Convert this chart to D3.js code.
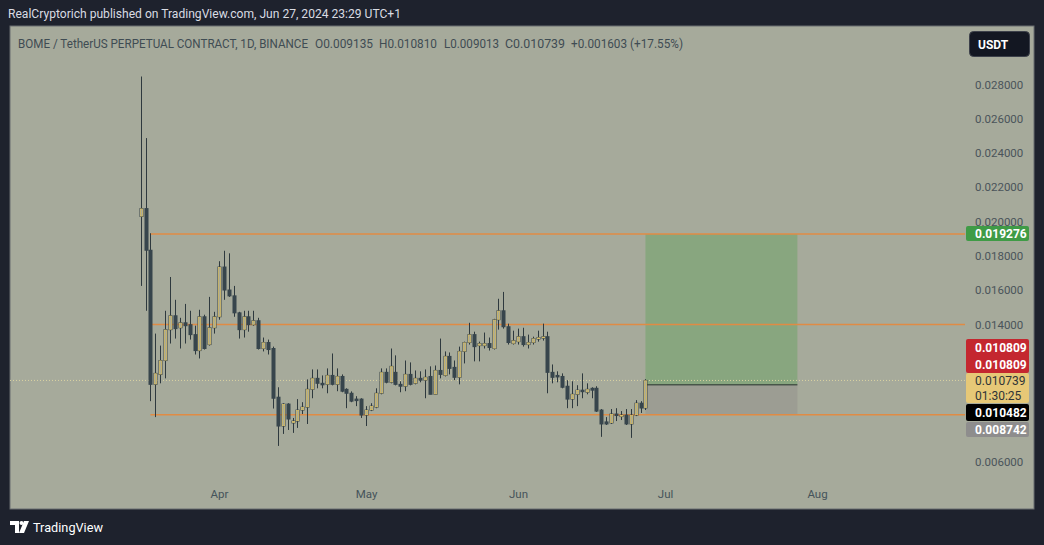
<!DOCTYPE html>
<html><head><meta charset="utf-8">
<script src="https://cdn.jsdelivr.net/npm/d3@7"></script>
<style>
html,body{margin:0;padding:0;background:#1e222d;}
svg{display:block;font-family:Roboto,"Liberation Sans",sans-serif;}
</style></head>
<body>
<svg id="c" width="1044" height="545"></svg>
<script>
// ---------- DATA ----------
const startDate = Date.UTC(2024, 2, 16);   // first daily candle (Mar 16, 2024)
const endDate   = Date.UTC(2024, 5, 28);   // exclusive (last candle Jun 27, 2024)
const opens  = [0.0203,0.02076,0.01833,0.01051,0.01109,0.0119,0.0137,0.01451,0.01381,0.0141,
  0.01399,0.01341,0.01248,0.01445,0.01283,0.01381,0.01445,0.01735,0.01601,0.01567,
  0.01468,0.0137,0.01445,0.01399,0.01422,0.0126,0.01295,0.0126,0.00976,0.00808,
  0.00936,0.00826,0.00837,0.00901,0.00918,0.01022,0.01086,0.01057,0.01051,0.01103,
  0.01051,0.01097,0.01022,0.00999,0.00965,0.00965,0.00872,0.00901,0.00918,0.00999,
  0.01121,0.01063,0.01121,0.01051,0.0104,0.01109,0.01057,0.01086,0.01075,0.01097,
  0.00993,0.01132,0.01103,0.01214,0.0115,0.01092,0.01243,0.01295,0.01341,0.01277,
  0.01277,0.01289,0.0126,0.01428,0.0148,0.01387,0.01289,0.013,0.01329,0.01283,
  0.01295,0.01318,0.01324,0.01329,0.01121,0.01103,0.01097,0.0104,0.00965,0.00993,
  0.01017,0.01005,0.01028,0.01028,0.00901,0.00832,0.00826,0.00878,0.00866,0.00872,
  0.0082,0.00872,0.00941,0.009135];
const highs  = [0.02846,0.02487,0.01932,0.01347,0.01277,0.0148,0.01677,0.01544,0.01439,0.0152,
  0.0148,0.01393,0.01486,0.01457,0.01561,0.01474,0.01769,0.01830,0.01815,0.01625,
  0.01474,0.0148,0.0148,0.0148,0.01439,0.01324,0.01312,0.01271,0.01034,0.00941,
  0.00941,0.00855,0.00965,0.00947,0.0108,0.01138,0.01138,0.01103,0.01144,0.01231,
  0.01144,0.01109,0.01028,0.0101,0.00982,0.0097,0.00924,0.00941,0.01028,0.01144,
  0.01144,0.0126,0.0122,0.01069,0.0119,0.01179,0.01132,0.01127,0.01138,0.01156,
  0.01161,0.01318,0.01243,0.01237,0.0119,0.01271,0.013,0.0141,0.01358,0.013,
  0.01353,0.01324,0.01433,0.0155,0.0159,0.01405,0.01364,0.01376,0.01381,0.01341,
  0.01329,0.01364,0.01405,0.01358,0.01167,0.01127,0.01115,0.01075,0.01069,0.01046,
  0.01115,0.01057,0.01034,0.0104,0.00907,0.0086,0.00907,0.00912,0.00895,0.00907,
  0.00907,0.00959,0.00953,0.01081];
const lows   = [0.01625,0.0148,0.00953,0.0086,0.01057,0.01086,0.01289,0.01318,0.0126,0.01289,
  0.01312,0.01225,0.01202,0.01254,0.01277,0.01347,0.01428,0.01544,0.01561,0.01445,
  0.01318,0.01324,0.01358,0.01393,0.01254,0.01243,0.01225,0.0091,0.00692,0.00762,
  0.00785,0.00768,0.00797,0.00878,0.0082,0.0097,0.01028,0.01028,0.00999,0.01045,
  0.01011,0.01005,0.00912,0.00947,0.00924,0.00855,0.00808,0.00895,0.00912,0.00993,
  0.01057,0.01057,0.01045,0.01005,0.01011,0.01045,0.01051,0.01063,0.0097,0.00993,
  0.00993,0.01086,0.01097,0.01109,0.01075,0.01051,0.01173,0.01283,0.01185,0.01185,
  0.0126,0.01248,0.01254,0.0137,0.01376,0.01283,0.01283,0.01283,0.01271,0.0126,
  0.01283,0.013,0.01306,0.00999,0.01057,0.01063,0.01028,0.00912,0.00912,0.00924,
  0.0097,0.00993,0.0097,0.0089,0.00745,0.00814,0.0082,0.00837,0.00843,0.00814,
  0.00739,0.00866,0.00884,0.009013];
const closes = [0.02076,0.01833,0.01051,0.01115,0.0119,0.0137,0.01451,0.01376,0.0141,0.01393,
  0.01341,0.01248,0.01445,0.0126,0.01381,0.01445,0.01735,0.01601,0.01567,0.01468,
  0.0137,0.01445,0.01399,0.01422,0.0126,0.01295,0.01254,0.0097,0.00808,0.00936,
  0.00849,0.00837,0.00901,0.00918,0.01022,0.01086,0.01057,0.01051,0.01103,0.01051,
  0.01097,0.01011,0.00999,0.00953,0.00959,0.00872,0.00901,0.00924,0.00999,0.01121,
  0.01063,0.01156,0.01051,0.0104,0.01109,0.01051,0.01086,0.01075,0.01092,0.00993,
  0.01132,0.01109,0.01214,0.01144,0.01092,0.01243,0.01295,0.01341,0.01271,0.01289,
  0.01289,0.01266,0.01428,0.0148,0.01387,0.01295,0.01306,0.01329,0.01283,0.01295,
  0.01318,0.01324,0.01329,0.01121,0.01092,0.01097,0.01034,0.00965,0.00993,0.01017,
  0.01011,0.01022,0.01017,0.00895,0.0082,0.0082,0.00878,0.00872,0.00872,0.0082,
  0.00872,0.00941,0.00913,0.010739];
// visible price-scale ticks (0.012, 0.010, 0.008 are covered by badges in the reference)
const priceTicks = [0.028,0.026,0.024,0.022,0.020,0.018,0.016,0.014,0.006];
const monthTicks = [Date.UTC(2024,3,1),Date.UTC(2024,4,1),Date.UTC(2024,5,1),Date.UTC(2024,6,1),Date.UTC(2024,7,1)];
const hLevels = [0.019276, 0.014, 0.008742];          // orange horizontal levels
const levelStart = Date.UTC(2024, 2, 18);
const position = {entry: 0.010482, target: 0.019276, stop: 0.008742,
                  from: Date.UTC(2024,5,27), to: Date.UTC(2024,6,28)};
const priceChange = "+0.001603 (+17.55%)";
const badgeTexts = {target:"0.019276", high:["0.010809","0.010809"], last:"0.010739",
                    countdown:"01:30:25", entry:"0.010482", stop:"0.008742"};

// ---------- SCALES ----------
const svg = d3.select("#c");
const x = d3.scaleUtc().domain([Date.UTC(2024,2,1), Date.UTC(2024,7,1)]).range([219 - 31*4.9, 817]);
const y = d3.scaleLinear().domain([0.006, 0.028]).range([461.7, 84.4]);
const axisX = 965;
const fmt = d3.format(".6f");

// background & pane
svg.append("rect").attr("width",1044).attr("height",545).attr("fill","#1e222d");
svg.append("rect").attr("x",10).attr("y",26).attr("width",1024).attr("height",483)
   .attr("fill","#a6aa9b").attr("stroke","#686c70").attr("stroke-width",1);

// header texts
svg.append("text").attr("x",8).attr("y",18).attr("fill","#d9dce3").attr("font-size",12)
   .attr("textLength",393).attr("lengthAdjust","spacingAndGlyphs")
   .text("RealCryptorich published on TradingView.com, Jun 27, 2024 23:29 UTC+1");
const lastIdx = opens.length-1;
const hdr = [
  {x:18,  t:"BOME / TetherUS PERPETUAL CONTRACT, 1D, BINANCE", w:290},
  {x:315, t:"O"+fmt(opens[lastIdx]), w:58},
  {x:379, t:"H"+fmt(highs[lastIdx]), w:58},
  {x:444, t:"L"+fmt(lows[lastIdx]), w:55},
  {x:505, t:"C"+fmt(closes[lastIdx]), w:60},
  {x:571, t:priceChange, w:112}
];
svg.selectAll("text.hdr").data(hdr).join("text").attr("class","hdr")
   .attr("x",d=>d.x).attr("y",48).attr("fill","#3f4c53").attr("font-size",12)
   .attr("textLength",d=>d.w).attr("lengthAdjust","spacingAndGlyphs").text(d=>d.t);

// position tool boxes
const bx0 = x(position.from), bx1 = x(position.to);
svg.append("rect").attr("x",bx0).attr("width",bx1-bx0)
   .attr("y",y(position.target)).attr("height",y(position.entry)-y(position.target))
   .attr("fill","#88a67f");
svg.append("rect").attr("x",bx0).attr("width",bx1-bx0)
   .attr("y",y(position.entry)).attr("height",y(position.stop)-y(position.entry))
   .attr("fill","#9c9d93");

// orange levels
svg.selectAll("line.lvl").data(hLevels).join("line").attr("class","lvl")
   .attr("x1",x(levelStart)).attr("x2",axisX).attr("y1",d=>y(d)).attr("y2",d=>y(d))
   .attr("stroke","#e08b44").attr("stroke-width",1.5);

// current price dotted line
svg.append("line").attr("x1",10).attr("x2",axisX)
   .attr("y1",y(closes[lastIdx])).attr("y2",y(closes[lastIdx]))
   .attr("stroke","#dcd3a2").attr("stroke-width",1).attr("stroke-dasharray","1,2");

// entry line
svg.append("line").attr("x1",bx0).attr("x2",bx1)
   .attr("y1",y(position.entry)).attr("y2",y(position.entry))
   .attr("stroke","#25312b").attr("stroke-width",1);

// candles
const dates = d3.utcDay.range(startDate, endDate);
const candles = dates.map((d,i)=>({d, o:opens[i], h:highs[i], l:lows[i], c:closes[i]}));
const g = svg.append("g");
const cx = d=>Math.round(x(d.d))+0.5;
const bodyTop = d=>y(Math.max(d.o,d.c)), bodyH = d=>Math.max(1.5,Math.abs(y(d.o)-y(d.c)));
g.selectAll("line.wick").data(candles).join("line").attr("class","wick")
  .attr("x1",cx).attr("x2",cx).attr("y1",d=>y(d.h)).attr("y2",d=>y(d.l))
  .attr("stroke","#2e393e").attr("stroke-width",1);
// outer dark body
g.selectAll("rect.body").data(candles).join("rect").attr("class","body")
  .attr("x",d=>cx(d)-2).attr("width",4)
  .attr("y",d=>bodyTop(d)-0.5).attr("height",d=>bodyH(d)+1)
  .attr("fill",d=>d.c>=d.o?"#3a4549":"#37454c");
// hollow inner of rising candles
const ups = candles.filter(d=>d.c>=d.o);
g.selectAll("rect.inner").data(ups).join("rect").attr("class","inner")
  .attr("x",d=>cx(d)-1.1).attr("width",2.2)
  .attr("y",d=>bodyTop(d)+0.4).attr("height",d=>Math.max(0.3,bodyH(d)-0.8))
  .attr("fill","#aaab98").attr("stroke","#d6bf6a").attr("stroke-width",0.8);

// y axis labels
const ya = svg.append("g").attr("transform",`translate(${axisX},0)`)
  .call(d3.axisRight(y).tickValues(priceTicks).tickFormat(fmt).tickSize(0).tickPadding(10));
ya.select(".domain").remove();
ya.selectAll("text").attr("fill","#4a545a").attr("font-size",11.5).attr("font-family","Roboto,sans-serif");

// x axis labels
const xa = svg.append("g").attr("transform","translate(0,484)")
  .call(d3.axisBottom(x).tickValues(monthTicks).tickFormat(d3.utcFormat("%b")).tickSize(0).tickPadding(6));
xa.select(".domain").remove();
xa.selectAll("text").attr("fill","#45535a").attr("font-size",11.5).attr("font-family","Roboto,sans-serif");

// badges
const badges = [
  {y0:226, y1:241, fill:"#3f9b46", color:"#ffffff", lines:[badgeTexts.target], bold:true},
  {y0:339, y1:373, fill:"#c4272f", color:"#ffffff", lines:badgeTexts.high, bold:true},
  {y0:373, y1:403, fill:"#e6c877", color:"#2f3436", lines:[badgeTexts.last, badgeTexts.countdown], bold:false},
  {y0:404, y1:421, fill:"#000000", color:"#ffffff", lines:[badgeTexts.entry], bold:true},
  {y0:422, y1:437, fill:"#8e8d8d", color:"#ffffff", lines:[badgeTexts.stop], bold:true}
];
const bg = svg.selectAll("g.badge").data(badges).join("g").attr("class","badge");
bg.append("rect").attr("x",966).attr("width",63).attr("y",d=>d.y0).attr("height",d=>d.y1-d.y0)
  .attr("rx",2).attr("fill",d=>d.fill);
bg.each(function(d){
  const n = d.lines.length, h = (d.y1-d.y0)/n;
  d3.select(this).selectAll("text").data(d.lines).join("text")
    .attr("x",975).attr("y",(t,i)=>d.y0+h*i+h/2+4.2)
    .attr("fill",d.color).attr("font-size",12).attr("font-weight",d.bold?"bold":"normal")
    .text(t=>t);
});

// USDT button
svg.append("rect").attr("x",969.5).attr("y",31.5).attr("width",60).attr("height",25).attr("rx",4)
  .attr("fill","#131722").attr("stroke","#3c404a");
svg.append("text").attr("x",978).attr("y",48.5).attr("fill","#ffffff").attr("font-size",12)
  .attr("font-weight","bold").text("USDT");

// TradingView footer
const logo = svg.append("g").attr("transform","translate(10,521)").attr("fill","#ffffff");
logo.append("path").attr("d","M0,0 H9 V12 H5 V4 H0 Z");
logo.append("circle").attr("cx",11.5).attr("cy",2).attr("r",2);
logo.append("path").attr("d","M14,0 H19 L14,12 H9 Z");
svg.append("text").attr("x",33).attr("y",532).attr("fill","#ffffff").attr("font-size",13)
  .attr("textLength",70).attr("lengthAdjust","spacingAndGlyphs").text("TradingView");
</script>
</body></html>
